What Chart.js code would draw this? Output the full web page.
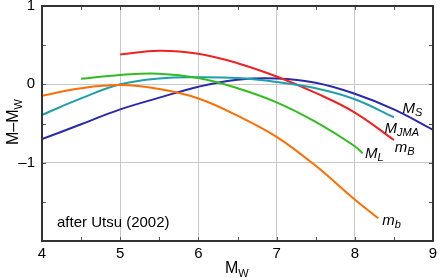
<!DOCTYPE html>
<html>
<head>
<meta charset="utf-8">
<script src="https://cdn.jsdelivr.net/npm/chart.js@4"></script>
<style>
html,body{margin:0;padding:0;background:#fff;}
#wrap{width:439px;height:278px;}
</style>
</head>
<body>
<div id="wrap"><canvas id="c"></canvas></div>
<script>
// Data, magnitude difference vs Mw
const mwMS=[4,4.5,5,5.5,6,6.5,7,7.5,8,8.5,9];
const valMS=[-0.70,-0.51,-0.32,-0.17,-0.03,0.06,0.075,0.02,-0.12,-0.32,-0.58];
const mwJMA=[4,4.5,5,5.5,6,6.5,7,7.5,8,8.5];
const valJMA=[-0.39,-0.18,0.0,0.075,0.09,0.08,0.03,-0.05,-0.19,-0.42];
const mwmB=[5,5.5,6,6.5,7,7.5,8,8.5];
const valmB=[0.38,0.43,0.39,0.27,0.10,-0.11,-0.36,-0.71];
const mwML=[4.5,5,5.5,6,6.5,7,7.5,8,8.1];
const valML=[0.07,0.12,0.135,0.08,-0.05,-0.23,-0.48,-0.79,-0.88];
const mwmb=[4,4.5,5,5.5,6,6.5,7,7.5,8,8.3];
const valmb=[-0.145,-0.05,-0.01,-0.06,-0.18,-0.40,-0.67,-1.04,-1.47,-1.71];
const xTicks=[4,5,6,7,8,9];
const yTicks=[1,0,-1];

function pts(xs,ys){ return xs.map((x,i)=>({x:x,y:ys[i]})); }
function ds(xs,ys,col){
  return {data:pts(xs,ys),borderColor:col,borderWidth:2,pointRadius:0,tension:0.4,fill:false};
}

const FONT='"Liberation Sans", Arial, sans-serif';

// frame, inward minor ticks, titles and curve labels
const decor={
  id:'decor',
  afterDraw(chart){
    const c=chart.ctx, a=chart.chartArea, sx=chart.scales.x, sy=chart.scales.y;
    c.save();
    c.strokeStyle='#555'; c.lineWidth=1;
    for(let v=4.5;v<9;v+=0.5){
      const p=Math.round(sx.getPixelForValue(v))+0.5;
      c.beginPath(); c.moveTo(p,a.bottom); c.lineTo(p,a.bottom-4); c.moveTo(p,a.top); c.lineTo(p,a.top+4); c.stroke();
    }
    for(let v=-1.5;v<1;v+=0.5){
      const p=Math.round(sy.getPixelForValue(v))+0.5;
      c.beginPath(); c.moveTo(a.left,p); c.lineTo(a.left+4,p); c.moveTo(a.right,p); c.lineTo(a.right-4,p); c.stroke();
    }
    c.strokeStyle='#333'; c.lineWidth=2;
    c.strokeRect(a.left,a.top,a.right-a.left,a.bottom-a.top);

    c.fillStyle='#000';
    // curve labels
    const lab=(x,y,main,sub)=>{
      const px=sx.getPixelForValue(x), py=sy.getPixelForValue(y);
      c.font='italic 15px '+FONT; c.textAlign='left'; c.textBaseline='alphabetic';
      c.fillText(main,px,py);
      const w=c.measureText(main).width;
      c.font='italic 11px '+FONT;
      c.fillText(sub,px+w,py+3);
    };
    lab(8.61,-0.37,'M','S');
    lab(8.38,-0.62,'M','JMA');
    lab(8.51,-0.86,'m','B');
    lab(8.13,-0.94,'M','L');
    lab(8.35,-1.80,'m','b');

    // note
    c.font='15px '+FONT;
    c.fillText('after Utsu (2002)',57,227);

    // x title
    c.font='16px '+FONT;
    c.fillText('M',225,273);
    let w=c.measureText('M').width;
    c.font='11px '+FONT;
    c.fillText('W',225+w,277);

    // y title
    c.translate(18,145); c.rotate(-Math.PI/2);
    c.font='16px '+FONT;
    c.fillText('M\u2013M',0,0);
    w=c.measureText('M\u2013M').width;
    c.font='11px '+FONT;
    c.fillText('W',w,4);
    c.restore();
  }
};

new Chart(document.getElementById('c'),{
  type:'line',
  data:{datasets:[
    ds(mwmb,valmb,'#ff6e00'),
    ds(mwML,valML,'#33bb22'),
    ds(mwJMA,valJMA,'#1fa0a8'),
    ds(mwmB,valmB,'#ee2222'),
    ds(mwMS,valMS,'#2a2aa8')
  ]},
  options:{
    responsive:true, maintainAspectRatio:false, animation:false,
    layout:{padding:{left:0,right:6,top:6,bottom:0}},
    plugins:{legend:{display:false},tooltip:{enabled:false}},
    scales:{
      x:{type:'linear',min:4,max:9,
        afterFit(s){ s.height=37; s.paddingLeft=0; s.paddingRight=0; },
        afterBuildTicks(s){ s.ticks=xTicks.map(v=>({value:v})); },
        ticks:{color:'#000',font:{family:FONT,size:15},padding:4,maxRotation:0},
        grid:{color:ctx=>(ctx.tick && (ctx.tick.value===4||ctx.tick.value===9))?'rgba(0,0,0,0)':'#c8c8c8',lineWidth:1,drawTicks:false},
        border:{display:false}
      },
      y:{type:'linear',min:-2,max:1,
        afterFit(s){ s.width=42; s.paddingTop=0; s.paddingBottom=0; },
        afterBuildTicks(s){ s.ticks=yTicks.map(v=>({value:v})); },
        ticks:{color:'#000',font:{family:FONT,size:15},padding:7,
          callback:v=>v<0?'\u2013'+Math.abs(v):String(v)},
        grid:{color:ctx=>(ctx.tick && ctx.tick.value===1)?'rgba(0,0,0,0)':'#c8c8c8',lineWidth:1,drawTicks:false},
        border:{display:false}
      }
    }
  },
  plugins:[decor]
});
</script>
</body>
</html>
